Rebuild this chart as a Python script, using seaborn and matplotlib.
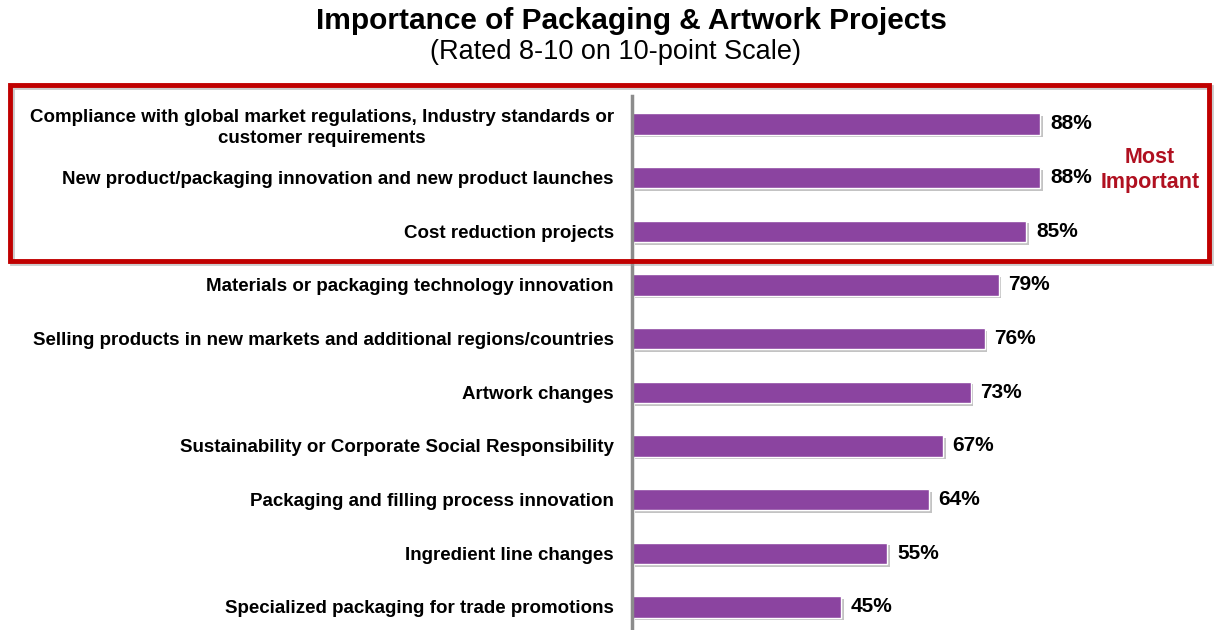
import seaborn as sns
import matplotlib.pyplot as plt
import matplotlib.patheffects as pe
from matplotlib.patches import Rectangle
import pandas as pd

# dane
projects = [
    "Compliance with global market regulations, Industry standards or\ncustomer requirements",
    "New product/packaging innovation and new product launches",
    "Cost reduction projects",
    "Materials or packaging technology innovation",
    "Selling products in new markets and additional regions/countries",
    "Artwork changes",
    "Sustainability or Corporate Social Responsibility",
    "Packaging and filling process innovation",
    "Ingredient line changes",
    "Specialized packaging for trade promotions",
]
rated = [88, 88, 85, 79, 76, 73, 67, 64, 55, 45]

df = pd.DataFrame({"project": projects, "rated": rated})

sns.set_style("white")
plt.rcParams['font.family'] = ['Liberation Sans', 'DejaVu Sans']
plt.rcParams['text.color'] = 'black'

fig = plt.figure(figsize=(12.15, 6.3), dpi=100)
ax = fig.add_axes([632 / 1215, 0, 1 - 632 / 1215, (630 - 96) / 630])

sns.barplot(data=df, x="rated", y="project", orient="h", color="#8B44A0",
            width=0.4, saturation=1, ax=ax)

for bar in ax.patches:
    bar.set_path_effects([pe.SimplePatchShadow(offset=(2, -2), alpha=0.35, shadow_rgbFace="#555555"),
                          pe.Normal()])

for i, v in enumerate(rated):
    ax.text(v + 2.1, i, f"{v}%", va="center", ha="left", fontsize=15,
            fontweight="bold", color="black")

ax.set_xlim(0, 583 / 4.64)
ax.set_ylim(9.43, -0.52)
ax.set_xlabel("")
ax.set_ylabel("")
ax.set_xticks([])
ax.tick_params(axis="y", length=0, pad=13)
for lbl in ax.get_yticklabels():
    lbl.set_fontsize(13.5)
    lbl.set_fontweight("bold")
    lbl.set_multialignment("center")
    lbl.set_color("black")
    lbl.set_linespacing(1.35)

for side in ["top", "right", "bottom"]:
    ax.spines[side].set_visible(False)
ax.spines["left"].set_color("#8c8c8c")
ax.spines["left"].set_linewidth(2.5)

fig.text(631 / 1215, 1 - 21 / 630, "Importance of Packaging & Artwork Projects",
         ha="center", va="center", fontsize=21.5, fontweight="bold")
fig.text(616 / 1215, 1 - 52 / 630, "(Rated 8-10 on 10-point Scale)",
         ha="center", va="center", fontsize=19.5)

fig.text(1150 / 1215, 1 - 170 / 630, "Most\nImportant", ha="center", va="center",
         fontsize=15.5, fontweight="bold", color="#B01020", linespacing=1.25)

# ramka z cieniem
shadow = Rectangle((12 / 1215, 1 - 263 / 630), 1199 / 1215, 176 / 630,
                   transform=fig.transFigure, fill=False, edgecolor="#999999",
                   alpha=0.5, linewidth=3.5, zorder=9)
box = Rectangle((10 / 1215, 1 - 261 / 630), 1199 / 1215, 176 / 630,
                transform=fig.transFigure, fill=False, edgecolor="#C00000",
                linewidth=3.5, zorder=10)
fig.patches.append(shadow)
fig.patches.append(box)

fig.savefig("out.png", dpi=100)
